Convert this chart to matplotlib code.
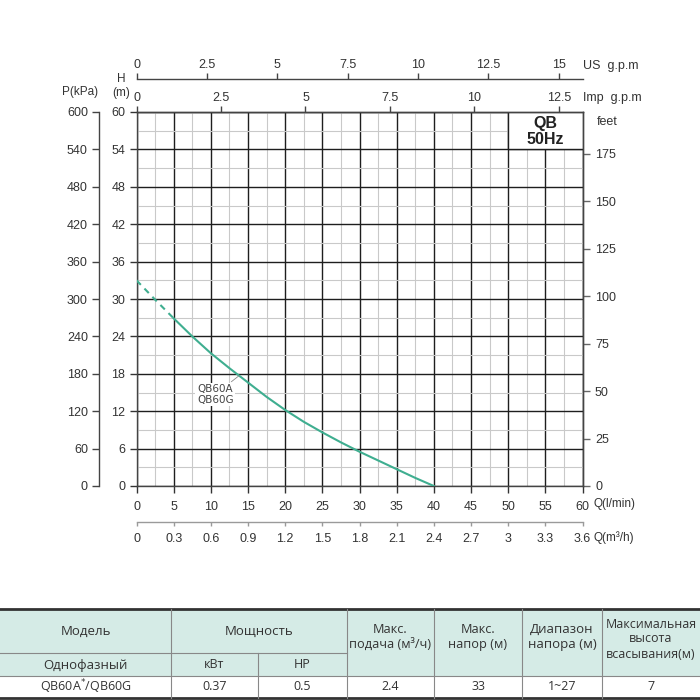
import numpy as np
import matplotlib
matplotlib.use("Agg")
import matplotlib.pyplot as plt
from matplotlib.patches import Rectangle
from matplotlib.ticker import MultipleLocator

# ── Data ──────────────────────────────────────────────────────────────────────

q_lmin = [0, 2.5, 5, 7.5, 10, 12.5, 15, 17.5, 20, 22.5, 25, 27.5, 30, 32.5, 35, 37.5, 40]
head_m = [33, 29.9, 26.9, 24.0, 21.3, 18.9, 16.6, 14.3, 12.2, 10.3, 8.6, 7.0, 5.5, 4.1, 2.7, 1.3, 0]
n_dashed = 3  # first points drawn dashed

q_ticks = list(range(0, 61, 5))
h_ticks = list(range(0, 61, 6))
p_ticks = list(range(0, 601, 60))
ft_ticks = list(range(0, 176, 25))
us_ticks = [0, 2.5, 5, 7.5, 10, 12.5, 15]
us_labels = ["0", "2.5", "5", "7.5", "10", "12.5", "15"]
imp_ticks = [0, 2.5, 5, 7.5, 10, 12.5]
imp_labels = ["0", "2.5", "5", "7.5", "10", "12.5"]
m3h_ticks = [0, 0.3, 0.6, 0.9, 1.2, 1.5, 1.8, 2.1, 2.4, 2.7, 3.0, 3.3, 3.6]
m3h_labels = ["0", "0.3", "0.6", "0.9", "1.2", "1.5", "1.8", "2.1", "2.4", "2.7", "3", "3.3", "3.6"]

model_name = "QB60A$^{*}$/QB60G"
power_kw = "0.37"
power_hp = "0.5"
max_flow = "2.4"
max_head = "33"
head_range = "1~27"
suction = "7"

# ── Styling ───────────────────────────────────────────────────────────────────

W = H = 700
TXT = "#333333"
CURVE = "#3fae90"
plt.rcParams["font.family"] = ["Liberation Sans", "DejaVu Sans"]
plt.rcParams["font.size"] = 9


def frac(x0, y0, x1, y1):
    """pixel box (top-left origin) -> figure fraction rect"""
    return [x0 / W, 1 - y1 / H, (x1 - x0) / W, (y1 - y0) / H]


fig = plt.figure(figsize=(7, 7), dpi=100)

# ── Main chart ────────────────────────────────────────────────────────────────

ax = fig.add_axes(frac(136.5, 112, 582.5, 486))
ax.set_xlim(0, 60)
ax.set_ylim(0, 60)
ax.xaxis.set_minor_locator(MultipleLocator(2.5))
ax.yaxis.set_minor_locator(MultipleLocator(3))
ax.set_xticks(q_ticks)
ax.set_yticks(h_ticks)
ax.grid(which="major", color="#1e1e1e", lw=1.0, zorder=1)
ax.grid(which="minor", color="#c9c9c9", lw=0.8, zorder=0)
ax.set_axisbelow(True)
ax.tick_params(which="minor", length=0)
ax.tick_params(which="major", direction="out", length=5, width=1, colors="#333",
               labelcolor=TXT, labelsize=9, pad=3)
ax.tick_params(axis="x", pad=6)
for s in ax.spines.values():
    s.set_color("#444")
    s.set_linewidth(1)

# white title box in the top-right corner
ax.add_patch(Rectangle((50, 54), 10, 6, facecolor="white", edgecolor="#1e1e1e",
                       lw=1, zorder=2))
ax.text(55, 56.9, "QB\n50Hz", ha="center", va="center", fontsize=11.5,
        fontweight="bold", color="#222", linespacing=1.05, zorder=3)

ax.plot(q_lmin[:n_dashed], head_m[:n_dashed], color=CURVE, lw=1.5,
        ls=(0, (3, 2.5)), zorder=4)
ax.plot(q_lmin[n_dashed - 1:], head_m[n_dashed - 1:], color=CURVE, lw=1.5, zorder=4)

ax.annotate("QB60A\nQB60G", xy=(13.8, 17.7), xytext=(10.6, 14.7),
            ha="center", va="center", fontsize=7.5, color="#444",
            family=["Liberation Sans Narrow", "DejaVu Sans"],
            linespacing=1.05,
            bbox=dict(boxstyle="square,pad=0.15", fc="white", ec="none"),
            arrowprops=dict(arrowstyle="-", color="#888", lw=0.6, shrinkA=1, shrinkB=0),
            zorder=5)

# ── Secondary scales ──────────────────────────────────────────────────────────

def tidy(sec, color="#444"):
    for s in sec.spines.values():
        s.set_color(color)
        s.set_linewidth(1)
    sec.tick_params(colors=color, labelcolor=TXT, labelsize=9, length=5, width=1)


# pressure, kPa
sec_p = ax.secondary_yaxis(-37.5 / 446, functions=(lambda h: h * 10, lambda p: p / 10))
sec_p.set_yticks(p_ticks)
tidy(sec_p)
sec_p.tick_params(pad=3)

# feet
sec_ft = ax.secondary_yaxis("right", functions=(lambda h: h * 3.28084, lambda f: f / 3.28084))
sec_ft.set_yticks(ft_ticks)
tidy(sec_ft, "#666")
sec_ft.tick_params(pad=4)

# Imp g.p.m on the top edge
sec_imp = ax.secondary_xaxis("top", functions=(lambda q: q * 0.219969, lambda g: g / 0.219969))
sec_imp.set_xticks(imp_ticks, imp_labels)
tidy(sec_imp)
sec_imp.tick_params(length=4, pad=2)

# US g.p.m, separate line above
sec_us = ax.secondary_xaxis(1 + 33 / 374, functions=(lambda q: q * 0.264172, lambda g: g / 0.264172))
sec_us.set_xticks(us_ticks, us_labels)
tidy(sec_us)
sec_us.tick_params(length=4, pad=2)

# m3/h below
sec_m3 = ax.secondary_xaxis(-36 / 374, functions=(lambda q: q * 0.06, lambda m: m / 0.06))
sec_m3.set_xticks(m3h_ticks, m3h_labels)
tidy(sec_m3, "#9a9a9a")
sec_m3.tick_params(length=3, pad=5)

# ── Overlay for loose labels and the table (pixel coords) ─────────────────────

ov = fig.add_axes([0, 0, 1, 1], zorder=10)
ov.set_xlim(0, W)
ov.set_ylim(H, 0)
ov.axis("off")

ov.text(80, 92, "P(kPa)", ha="center", va="center", fontsize=8.5, color=TXT)
ov.text(121, 86, "H\n(m)", ha="center", va="center", fontsize=8.5, color=TXT, linespacing=1.3)
ov.text(583, 66, "US  g.p.m", ha="left", va="center", fontsize=9, color=TXT)
ov.text(583, 98, "Imp  g.p.m", ha="left", va="center", fontsize=9, color=TXT)
ov.text(597, 122, "feet", ha="left", va="center", fontsize=9, color=TXT)
ov.text(594, 504, "Q(l/min)", ha="left", va="center", fontsize=8.5, color=TXT)
ov.text(594, 538, "Q(m³/h)", ha="left", va="center", fontsize=8.5, color=TXT)

# table
TFONT = ["Open Sans", "DejaVu Sans"]
HEAD_BG = "#d5ebe6"
cols = [0, 171, 258, 347, 434, 522, 602, 700]
rows = [609, 653, 676, 698]

ov.add_patch(Rectangle((0, rows[0]), W, rows[2] - rows[0], fc=HEAD_BG, ec="none"))
ov.plot([0, W], [rows[0], rows[0]], color="#333", lw=2)
ov.plot([0, W], [rows[3], rows[3]], color="#333", lw=2)
ov.plot([0, W], [rows[2], rows[2]], color="#888", lw=0.8)
ov.plot([0, cols[3]], [rows[1], rows[1]], color="#888", lw=0.8)
for i, x in enumerate(cols[1:-1], start=1):
    y0 = rows[1] if i == 2 else rows[0]
    ov.plot([x, x], [y0, rows[3]], color="#888", lw=0.8)

def cell(x0, x1, yc, s, size=9, ls=1.1):
    ov.text((x0 + x1) / 2, yc, s, ha="center", va="center",
            fontsize=size, color=TXT, family=TFONT, linespacing=ls)

cell(cols[0], cols[1], 631, "Модель", 9.5)
cell(cols[1], cols[3], 631, "Мощность", 9.5)
cell(cols[0], cols[1], 665, "Однофазный", 9.5)
cell(cols[1], cols[2], 665, "кВт", 9)
cell(cols[2], cols[3], 665, "HP", 9)
cell(cols[3], cols[4], 637, "Макс.\nподача (м³/ч)", 9.2, 1.15)
cell(cols[4], cols[5], 637, "Макс.\nнапор (м)", 9.2, 1.15)
cell(cols[5], cols[6], 637, "Диапазон\nнапора (м)", 9.5, 1.15)
cell(cols[6], cols[7], 639, "Максимальная\nвысота\nвсасывания(м)", 9, 1.2)

for i, v in enumerate([model_name, power_kw, power_hp, max_flow, max_head, head_range, suction]):
    cell(cols[i], cols[i + 1], 687, v, 9)

fig.savefig("out.png", dpi=100, facecolor="white")
